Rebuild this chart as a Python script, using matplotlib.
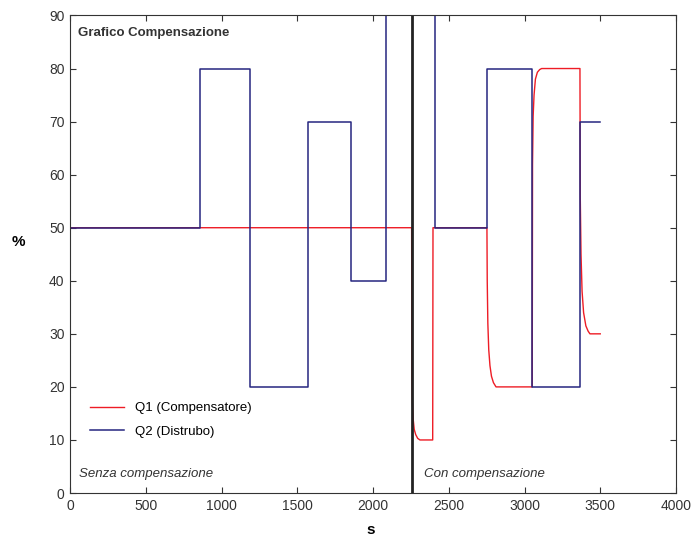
import matplotlib
matplotlib.use('Agg')
import matplotlib.pyplot as plt

plt.rcParams['font.family'] = ['Liberation Sans', 'DejaVu Sans']

# Q2 (disturbance) - step signal
q2_t = [0, 1, 860, 1185, 1570, 1855, 2085, 2408, 2752, 3050, 3365, 3500]
q2_v = [0, 50, 80, 20, 70, 40, 90, 50, 80, 20, 70, 70]

# Q1 (compensator)
q1_t = [0, 1, 2255, 2257, 2260, 2265, 2272, 2282, 2295, 2310, 2394, 2396,
        2752, 2754, 2758, 2764, 2772, 2782, 2795, 2812, 3051, 3053, 3057,
        3063, 3072, 3085, 3100, 3113, 3366, 3368, 3373, 3380, 3390, 3405,
        3420, 3432, 3500]
q1_v = [0, 50, 50, 22, 17, 14, 12, 11, 10.3, 10, 10, 50,
        50, 40, 32, 27, 24, 22, 20.8, 20, 20, 62, 71,
        75, 78, 79.3, 79.8, 80, 80, 56, 45, 38, 34, 31.5,
        30.5, 30, 30]

switch_t = 2255

fig = plt.figure(figsize=(6.91, 5.39), dpi=100)
ax = fig.add_axes([0.1013, 0.0853, 0.877, 0.886])

ax.plot(q1_t, q1_v, color='#ee1c25', lw=1.0, label='Q1 (Compensatore)')
ax.step(q2_t, q2_v, where='post', color='#262680', lw=1.1, label='Q2 (Distrubo)')
ax.axvline(switch_t, color='#222222', lw=2)

ax.set_xlim(0, 4000)
ax.set_ylim(0, 90)
ax.set_xticks(range(0, 4001, 500))
ax.set_yticks(range(0, 91, 10))
ax.tick_params(direction='in', top=True, right=True, labelsize=10,
               colors='#333333', length=4, pad=4)
for s in ax.spines.values():
    s.set_color('#333333')

ax.set_xlabel('s', fontsize=11, fontweight='bold', va='center')
ax.xaxis.set_label_coords(0.496, -0.077)
ax.set_ylabel('%', fontsize=11, fontweight='bold', rotation=0, va='center')
ax.yaxis.set_label_coords(-0.085, 0.525)

ax.text(0.013, 0.963, 'Grafico Compensazione', transform=ax.transAxes,
        fontsize=9.5, fontweight='bold', color='#333333', va='center')
ax.text(0.015, 0.04, 'Senza compensazione', transform=ax.transAxes,
        fontsize=9.5, style='italic', color='#333333', va='center')
ax.text(0.584, 0.04, 'Con compensazione', transform=ax.transAxes,
        fontsize=9.5, style='italic', color='#333333', va='center')

ax.legend(loc='upper left', bbox_to_anchor=(0.013, 0.215), frameon=False,
          fontsize=9.5, handlelength=2.6, labelspacing=0.85)

fig.savefig('out.png', dpi=100)
